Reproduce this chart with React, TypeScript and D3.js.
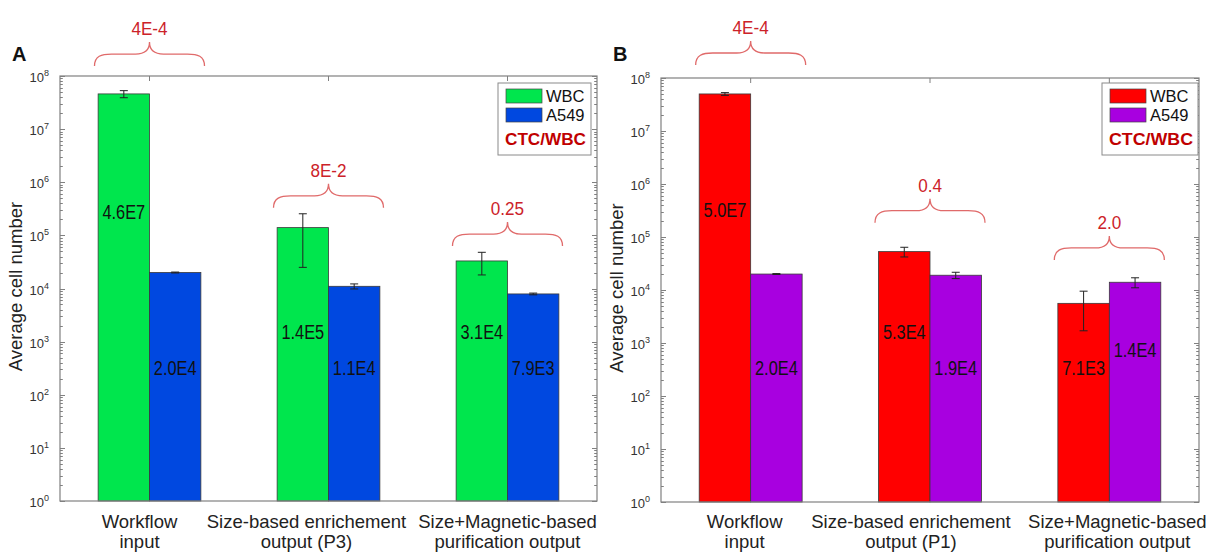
import React from "react";
import * as d3 from "d3";

// ---------- DATA ----------
const categoriesA: string[][] = [
  ["Workflow", "input"],
  ["Size-based enrichement", "output (P3)"],
  ["Size+Magnetic-based", "purification output"],
];
const categoriesB: string[][] = [
  ["Workflow", "input"],
  ["Size-based enrichement", "output (P1)"],
  ["Size+Magnetic-based", "purification output"],
];

const wbcA = [4.6e7, 1.4e5, 3.3e4];
const wbcErrA = [7e6, 1.15e5, 1.5e4];
const a549A = [2.0e4, 1.1e4, 7.9e3];
const a549ErrA = [4e2, 1.2e3, 3e2];
const wbcLabelsA = ["4.6E7", "1.4E5", "3.1E4"];
const a549LabelsA = ["2.0E4", "1.1E4", "7.9E3"];
const wbcLabelAtA = [2.8e5, 1.5e3, 1.5e3];
const a549LabelAtA = [320, 320, 320];
const ratioA = ["4E-4", "8E-2", "0.25"];
const braceAtA = [1.54e8, 3.3e5, 6.3e4];

const wbcB = [5.0e7, 5.3e4, 5.6e3];
const wbcErrB = [3e6, 1.1e4, 3.9e3];
const a549B = [2.0e4, 1.9e4, 1.4e4];
const a549ErrB = [4e2, 2.6e3, 3e3];
const wbcLabelsB = ["5.0E7", "5.3E4", "7.1E3"];
const a549LabelsB = ["2.0E4", "1.9E4", "1.4E4"];
const wbcLabelAtB = [3.2e5, 1.6e3, 335];
const a549LabelAtB = [335, 335, 740];
const ratioB = ["4E-4", "0.4", "2.0"];
const braceAtB = [1.76e8, 1.86e5, 3.7e4];

const seriesNames = ["WBC", "A549"];
const legendExtra = "CTC/WBC";
const yTitle = "Average cell number";
const yDomain = [1, 1e8];

// ---------- STYLE ----------
const FONT = "'Liberation Sans', Arial, Helvetica, sans-serif";
const AXIS = "#808080";
const RATIO_RED = "#cc2229";
const BRACE_RED = "#e06a6a";

type PanelProps = {
  letter: string;
  left: number;
  right: number;
  top: number;
  bottom: number;
  categories: string[][];
  labelShift: number[];
  wbc: number[];
  wbcErr: number[];
  a549: number[];
  a549Err: number[];
  wbcLabels: string[];
  a549Labels: string[];
  wbcLabelAt: number[];
  a549LabelAt: number[];
  ratios: string[];
  braceAt: number[];
  colors: string[];
  legendLeft: number;
  legendWidth: number;
};

function Panel(p: PanelProps) {
  const x = d3.scaleLinear().domain([0.5, p.categories.length + 0.5]).range([p.left, p.right]);
  const y = d3.scaleLog().domain(yDomain).range([p.bottom, p.top]);
  const bw = 0.287; // bar width in category units
  const ticks = y.ticks();
  const isMajor = (t: number) => Math.abs(Math.log10(t) - Math.round(Math.log10(t))) < 1e-9;
  const majors = ticks.filter(isMajor);

  const brace = (cx: number, yb: number) => {
    const w = 55;
    return `M${cx - w},${yb} C${cx - w},${yb - 10} ${cx - w + 7},${yb - 12} ${cx - w + 17},${yb - 12} L${cx - 14},${yb - 12} C${cx - 5},${yb - 12} ${cx},${yb - 16} ${cx},${yb - 24} C${cx},${yb - 16} ${cx + 5},${yb - 12} ${cx + 14},${yb - 12} L${cx + w - 17},${yb - 12} C${cx + w - 7},${yb - 12} ${cx + w},${yb - 10} ${cx + w},${yb}`;
  };

  const bars = (vals: number[], errs: number[], offset: number, color: string, key: string) =>
    vals.map((v, i) => {
      const x0 = x(i + 1 + offset);
      const x1 = x(i + 1 + offset + bw);
      const xc = (x0 + x1) / 2;
      const yt = y(v);
      const ye1 = y(v + errs[i]);
      const ye0 = y(Math.max(v - errs[i], 1));
      return (
        <g key={key + i}>
          <rect x={x0} y={yt} width={x1 - x0} height={p.bottom - yt} fill={color} stroke="#3a3a3a" strokeWidth={0.8} />
          <g stroke="#222" strokeWidth={1}>
            <line x1={xc} x2={xc} y1={ye1} y2={ye0} />
            <line x1={xc - 4} x2={xc + 4} y1={ye1} y2={ye1} />
            <line x1={xc - 4} x2={xc + 4} y1={ye0} y2={ye0} />
          </g>
        </g>
      );
    });

  const barLabels = (labels: string[], at: number[], offset: number, key: string) =>
    labels.map((t, i) => {
      const xc = (x(i + 1 + offset) + x(i + 1 + offset + bw)) / 2;
      return (
        <text
          key={key + i}
          transform={`translate(${xc},${y(at[i])}) scale(0.84,1)`}
          textAnchor="middle"
          dy="0.36em"
          fontSize={19.5}
          fontFamily={FONT}
          fill="#111"
        >
          {t}
        </text>
      );
    });

  const lg = { x: p.legendLeft, y: 83, w: p.legendWidth, h: 72 };

  return (
    <g>
      {/* panel letter */}
      <text x={p.left - 48} y={61} fontSize={20} fontWeight="bold" fontFamily={FONT} fill="#111">
        {p.letter}
      </text>

      {/* bars */}
      {bars(p.wbc, p.wbcErr, -bw, p.colors[0], "w")}
      {bars(p.a549, p.a549Err, 0, p.colors[1], "a")}
      {barLabels(p.wbcLabels, p.wbcLabelAt, -bw, "wl")}
      {barLabels(p.a549Labels, p.a549LabelAt, 0, "al")}

      {/* frame */}
      <rect x={p.left} y={p.top} width={p.right - p.left} height={p.bottom - p.top} fill="none" stroke={AXIS} strokeWidth={1.2} />

      {/* y ticks left & right */}
      <g stroke={AXIS} strokeWidth={1}>
        {ticks.map((t, i) => {
          const len = isMajor(t) ? 5 : 2.8;
          const yy = Math.round(y(t)) + 0.5;
          return (
            <g key={"t" + i}>
              <line x1={p.left} x2={p.left + len} y1={yy} y2={yy} />
              <line x1={p.right} x2={p.right - len} y1={yy} y2={yy} />
            </g>
          );
        })}
        {p.categories.map((_, i) => (
          <line key={"xt" + i} x1={x(i + 1)} x2={x(i + 1)} y1={p.top} y2={p.top + 5} />
        ))}
      </g>

      {/* y tick labels */}
      {majors.map((t, i) => (
        <text key={"yl" + i} x={p.left - 11} y={y(t) + 6} textAnchor="end" fontSize={13} fontFamily={FONT} fill="#333">
          10
          <tspan fontSize={9} dy={-6}>
            {Math.round(Math.log10(t))}
          </tspan>
        </text>
      ))}

      {/* y title */}
      <text
        transform={`translate(${p.left - 38},${(p.top + p.bottom) / 2 - 2}) rotate(-90)`}
        textAnchor="middle"
        fontSize={18.5}
        fontFamily={FONT}
        fill="#222"
      >
        {yTitle}
      </text>

      {/* category labels */}
      {p.categories.map((c, i) => (
        <text key={"c" + i} textAnchor="middle" fontSize={18.5} fontFamily={FONT} fill="#222">
          <tspan x={x(i + 1) + p.labelShift[i]} y={528}>{c[0]}</tspan>
          <tspan x={x(i + 1) + p.labelShift[i]} y={548}>{c[1]}</tspan>
        </text>
      ))}

      {/* braces & ratios */}
      {p.ratios.map((r, i) => {
        const cx = x(i + 1);
        const yb = y(p.braceAt[i]);
        return (
          <g key={"b" + i}>
            <path d={brace(cx, yb)} fill="none" stroke={BRACE_RED} strokeWidth={1.3} />
            <text
              transform={`translate(${cx},${yb - 31}) scale(0.9,1)`}
              textAnchor="middle"
              fontSize={19}
              fontFamily={FONT}
              fill={RATIO_RED}
            >
              {r}
            </text>
          </g>
        );
      })}

      {/* legend */}
      <g>
        <rect x={lg.x} y={lg.y} width={lg.w} height={lg.h} fill="#fff" stroke="#8a8a8a" strokeWidth={1} />
        {seriesNames.map((s, i) => (
          <g key={"lg" + i}>
            <rect x={lg.x + 8} y={lg.y + 6 + i * 19} width={36} height={14} fill={p.colors[i]} stroke="#444" strokeWidth={0.7} />
            <text x={lg.x + 48} y={lg.y + 19 + i * 19} fontSize={16.5} fontFamily={FONT} fill="#111">
              {s}
            </text>
          </g>
        ))}
        <text
          x={lg.x + lg.w / 2 + 1}
          y={lg.y + 62}
          textAnchor="middle"
          fontSize={17}
          fontWeight="bold"
          fontFamily={FONT}
          fill="#c00000"
          textLength={lg.w - 12}
          lengthAdjust="spacingAndGlyphs"
        >
          {legendExtra}
        </text>
      </g>
    </g>
  );
}

export default function App() {
  return (
    <svg
      width={1213}
      height={553}
      viewBox="0 0 1213 553"
      style={{ position: "absolute", left: 0, top: 0, background: "#fff", display: "block" }}
    >
      <rect x={0} y={0} width={1213} height={553} fill="#fff" />
      <Panel
        letter="A"
        left={60}
        right={597}
        top={76}
        bottom={501}
        categories={categoriesA}
        labelShift={[-10, -22, 0]}
        wbc={wbcA}
        wbcErr={wbcErrA}
        a549={a549A}
        a549Err={a549ErrA}
        wbcLabels={wbcLabelsA}
        a549Labels={a549LabelsA}
        wbcLabelAt={wbcLabelAtA}
        a549LabelAt={a549LabelAtA}
        ratios={ratioA}
        braceAt={braceAtA}
        colors={["#00e64d", "#0048e0"]}
        legendLeft={498}
        legendWidth={93}
      />
      <Panel
        letter="B"
        left={661}
        right={1199}
        top={78}
        bottom={502}
        categories={categoriesB}
        labelShift={[-6, -19, 8]}
        wbc={wbcB}
        wbcErr={wbcErrB}
        a549={a549B}
        a549Err={a549ErrB}
        wbcLabels={wbcLabelsB}
        a549Labels={a549LabelsB}
        wbcLabelAt={wbcLabelAtB}
        a549LabelAt={a549LabelAtB}
        ratios={ratioB}
        braceAt={braceAtB}
        colors={["#ff0000", "#a800e0"]}
        legendLeft={1102}
        legendWidth={96}
      />
    </svg>
  );
}
